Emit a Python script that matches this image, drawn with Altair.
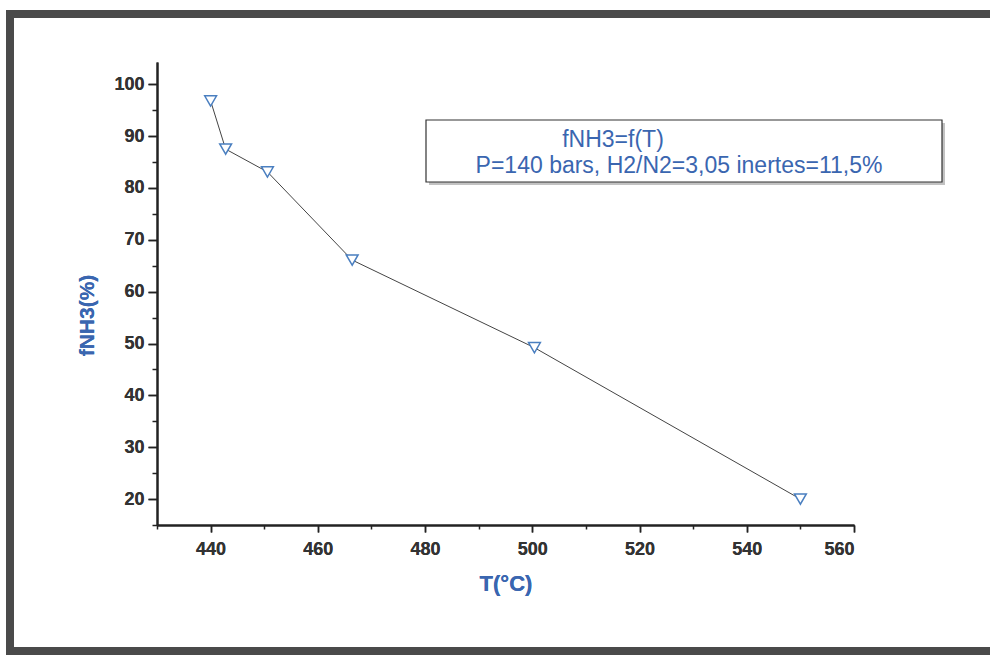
import altair as alt
import pandas as pd

T = [440.0, 442.8, 450.6, 466.4, 500.4, 550.0]
fNH3 = [96.8, 87.5, 83.1, 66.1, 49.2, 20.0]

x_major = [440, 460, 480, 500, 520, 540, 560]
x_minor = [430, 450, 470, 490, 510, 530, 550]
y_major = [20, 30, 40, 50, 60, 70, 80, 90, 100]
y_minor = [15, 25, 35, 45, 55, 65, 75, 85, 95]

legend_lines = ["fNH3=f(T)", "P=140 bars, H2/N2=3,05 inertes=11,5%"]

df = pd.DataFrame({"T": T, "f": fNH3})

W, H = 697, 463
BLUE = "#3a66b0"
FONT = "Liberation Sans"

xs = alt.Scale(domain=[430, 560], nice=False, zero=False)
ys = alt.Scale(domain=[15, 104.3], nice=False, zero=False)

xaxis = alt.Axis(values=x_major, orient="bottom", tickSize=7, tickWidth=1.5, tickColor="#222",
                 domainColor="#222", domainWidth=2, labelFont=FONT, labelFontSize=18,
                 labelFontWeight="bold", labelColor="#333", labelPadding=8,
                 title="T(°C)", titleFont=FONT, titleFontSize=22, titleFontWeight="bold",
                 titleColor=BLUE, titlePadding=15, grid=False, format="d")
yaxis = alt.Axis(values=y_major, orient="left", tickSize=9, tickWidth=1.5, tickColor="#222",
                 domainColor="#222", domainWidth=2, labelFont=FONT, labelFontSize=18,
                 labelFontWeight="bold", labelColor="#333", labelPadding=4,
                 title="fNH3(%)", titleFont=FONT, titleFontSize=21, titleFontWeight="bold",
                 titleColor=BLUE, titlePadding=16, titleY=253, grid=False, format="d")

line = alt.Chart(df).mark_line(color="#444", strokeWidth=1).encode(
    x=alt.X("T:Q", scale=xs, axis=xaxis),
    y=alt.Y("f:Q", scale=ys, axis=yaxis),
)
pts = alt.Chart(df).mark_point(shape="triangle-down", filled=True, fill="white",
                                stroke="#4a7fc0", strokeWidth=1.5, size=140, opacity=1).encode(
    x=alt.X("T:Q", scale=xs, axis=xaxis),
    y=alt.Y("f:Q", scale=ys, axis=yaxis),
)

minor_df = pd.DataFrame({"T": [435.0], "f": [50.0]})
minor = alt.Chart(minor_df).mark_point(opacity=0).encode(
    x=alt.X("T:Q", scale=xs, axis=alt.Axis(values=x_minor, orient="bottom", tickSize=4,
            tickWidth=1.5, tickColor="#222", labels=False, domain=False, title=None, grid=False)),
    y=alt.Y("f:Q", scale=ys, axis=alt.Axis(values=y_minor, orient="left", tickSize=5,
            tickWidth=1.5, tickColor="#222", labels=False, domain=False, title=None, grid=False)),
)

# legend box (decoration)
box_shadow = alt.Chart(minor_df).mark_rect(fill="#999", opacity=0.6).encode(
    x=alt.value(272), x2=alt.value(788), y=alt.value(61), y2=alt.value(123))
box = alt.Chart(minor_df).mark_rect(fill="white", stroke="#333", strokeWidth=1.2).encode(
    x=alt.value(269), x2=alt.value(785), y=alt.value(58), y2=alt.value(120))
leg1 = alt.Chart(minor_df).mark_text(text=legend_lines[0], font=FONT, fontSize=23,
                                     color=BLUE, align="center", baseline="middle").encode(
    x=alt.value(456), y=alt.value(78))
leg2 = alt.Chart(minor_df).mark_text(text=legend_lines[1], font=FONT, fontSize=23,
                                     color=BLUE, align="center", baseline="middle").encode(
    x=alt.value(522), y=alt.value(104))

frame = alt.Chart(minor_df).mark_rect(fill="transparent", stroke="#4a4a4a", strokeWidth=8).encode(
    x=alt.value(-147), x2=alt.value(860), y=alt.value(-48), y2=alt.value(589))

chart = alt.layer(frame, line, pts, minor, box_shadow, box, leg1, leg2).resolve_axis(
    x="independent", y="independent"
).properties(
    width=W, height=H,
    autosize=alt.AutoSizeParams(type="none"),
    padding={"left": 157, "top": 62, "right": 136, "bottom": 134},
    background="white",
).configure_view(stroke=None)

chart.save("out.html", embed_options={"renderer": "svg", "actions": False})
